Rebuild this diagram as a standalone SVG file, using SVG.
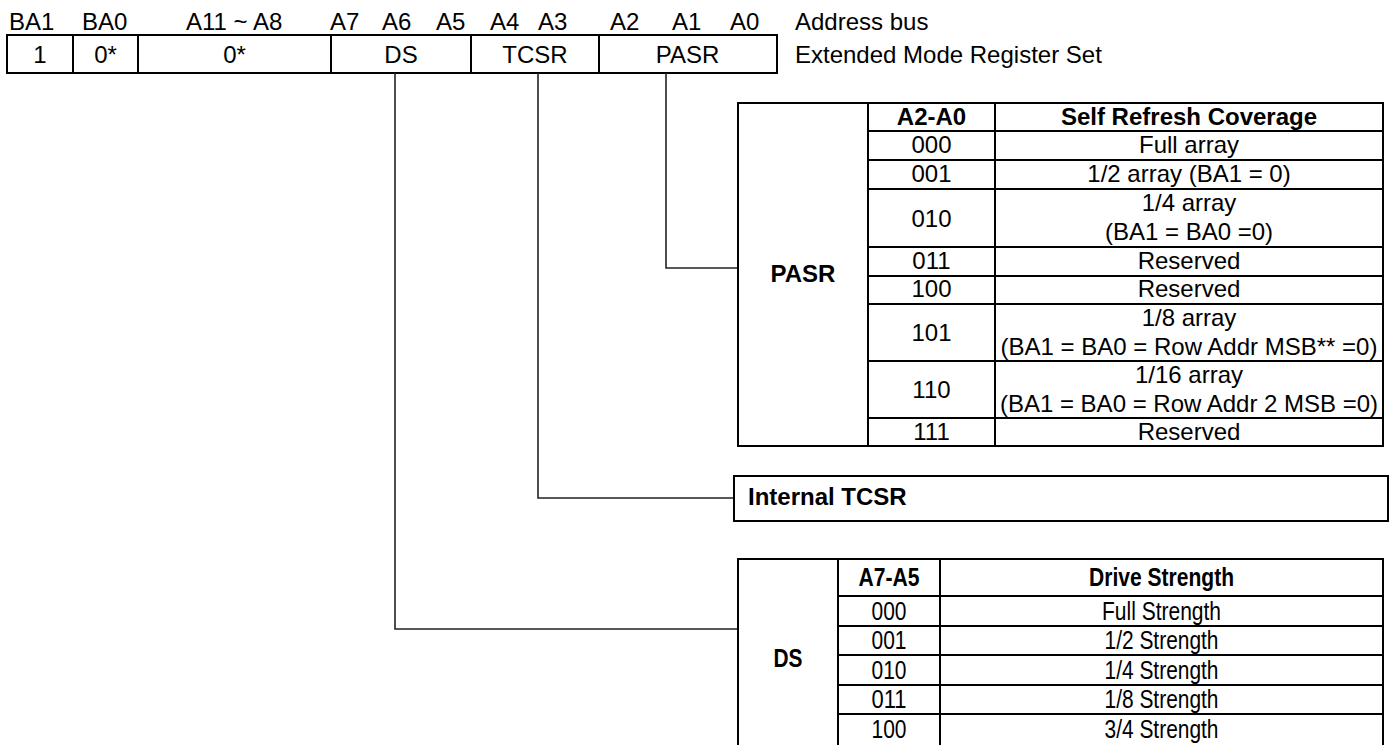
<svg xmlns="http://www.w3.org/2000/svg" width="1391" height="745" viewBox="0 0 1391 745">
<style>
text{font-family:"Liberation Sans",Arial,sans-serif;font-size:24px;fill:#000}
.c{text-anchor:middle}
.b{font-weight:bold}
.n{font-size:25px}
.box{fill:none;stroke:#000;stroke-width:2}
.ln{stroke:#000;stroke-width:2;fill:none}
.con{stroke:#222;stroke-width:1.6;fill:none}
</style>
<rect width="1391" height="745" fill="#fff"/>
<g id="register">
<text x="9" y="30">BA1</text>
<text x="82" y="30">BA0</text>
<text x="186" y="30">A11 ~ A8</text>
<text x="330" y="30">A7</text>
<text x="382" y="30">A6</text>
<text x="436" y="30">A5</text>
<text x="490" y="30">A4</text>
<text x="538" y="30">A3</text>
<text x="610" y="30">A2</text>
<text x="672" y="30">A1</text>
<text x="730" y="30">A0</text>
<text x="795" y="30">Address bus</text>
<text x="795" y="63">Extended Mode Register Set</text>
<rect class="box" x="7" y="35" width="770" height="38"/>
<path class="ln" d="M73,35V73M138,35V73M331,35V73M471,35V73M599,35V73"/>
<text class="c" x="40" y="63">1</text>
<text class="c" x="105.5" y="63">0*</text>
<text class="c" x="234.5" y="63">0*</text>
<text class="c" x="401" y="63">DS</text>
<text class="c" x="535" y="63">TCSR</text>
<text class="c" x="687.5" y="63">PASR</text>
</g>
<g id="connectors">
<path class="con" d="M666,73V268H738"/>
<path class="con" d="M538,73V498H734"/>
<path class="con" d="M395,73V629H738"/>
</g>
<g id="pasr-table">
<rect class="box" x="738" y="103" width="645" height="343"/>
<path class="ln" d="M868,103V446M995,103V446M868,131H1383M868,160H1383M868,189H1383M868,247H1383M868,276H1383M868,304H1383M868,361H1383M868,418H1383"/>
<text class="c b" x="803" y="282">PASR</text>
<text class="c b" x="931.5" y="125">A2-A0</text>
<text class="c b" x="1189" y="125">Self Refresh Coverage</text>
<text class="c" x="931.5" y="153">000</text>
<text class="c" x="1189" y="153">Full array</text>
<text class="c" x="931.5" y="182">001</text>
<text class="c" x="1189" y="182">1/2 array (BA1 = 0)</text>
<text class="c" x="931.5" y="227">010</text>
<text class="c" x="1189" y="211">1/4 array</text>
<text class="c" x="1189" y="240">(BA1 = BA0 =0)</text>
<text class="c" x="931.5" y="269">011</text>
<text class="c" x="1189" y="269">Reserved</text>
<text class="c" x="931.5" y="297">100</text>
<text class="c" x="1189" y="297">Reserved</text>
<text class="c" x="931.5" y="341">101</text>
<text class="c" x="1189" y="326">1/8 array</text>
<text class="c" x="1189" y="355">(BA1 = BA0 = Row Addr MSB** =0)</text>
<text class="c" x="931.5" y="398">110</text>
<text class="c" x="1189" y="383">1/16 array</text>
<text class="c" x="1189" y="412">(BA1 = BA0 = Row Addr 2 MSB =0)</text>
<text class="c" x="931.5" y="440">111</text>
<text class="c" x="1189" y="440">Reserved</text>
</g>
<g id="tcsr-box">
<rect class="box" x="734" y="476" width="654" height="45"/>
<text class="b" x="748" y="505">Internal TCSR</text>
</g>
<g id="ds-table">
<path class="ln" d="M738,746V559H1383V746"/>
<path class="ln" d="M838,559V746M940,559V746M838,596H1383M838,626H1383M838,655H1383M838,685H1383M838,714H1383"/>
<text class="c b n" x="788" y="667" textLength="29" lengthAdjust="spacingAndGlyphs">DS</text>
<text class="c b n" x="889" y="586" textLength="61" lengthAdjust="spacingAndGlyphs">A7-A5</text>
<text class="c b n" x="1161.5" y="586" textLength="145" lengthAdjust="spacingAndGlyphs">Drive Strength</text>
<text class="c n" x="889" y="620" textLength="35" lengthAdjust="spacingAndGlyphs">000</text>
<text class="c n" x="1161.5" y="620" textLength="119" lengthAdjust="spacingAndGlyphs">Full Strength</text>
<text class="c n" x="889" y="649" textLength="35" lengthAdjust="spacingAndGlyphs">001</text>
<text class="c n" x="1161.5" y="649" textLength="114" lengthAdjust="spacingAndGlyphs">1/2 Strength</text>
<text class="c n" x="889" y="679" textLength="35" lengthAdjust="spacingAndGlyphs">010</text>
<text class="c n" x="1161.5" y="679" textLength="114" lengthAdjust="spacingAndGlyphs">1/4 Strength</text>
<text class="c n" x="889" y="708" textLength="35" lengthAdjust="spacingAndGlyphs">011</text>
<text class="c n" x="1161.5" y="708" textLength="114" lengthAdjust="spacingAndGlyphs">1/8 Strength</text>
<text class="c n" x="889" y="738" textLength="35" lengthAdjust="spacingAndGlyphs">100</text>
<text class="c n" x="1161.5" y="738" textLength="114" lengthAdjust="spacingAndGlyphs">3/4 Strength</text>
</g>
</svg>
